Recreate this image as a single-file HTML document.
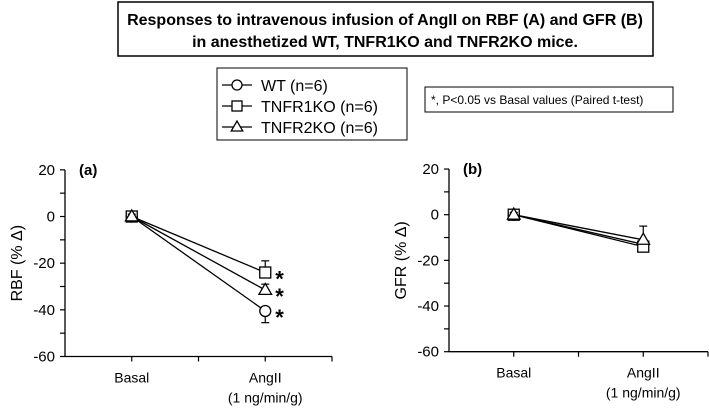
<!DOCTYPE html>
<html><head><meta charset="utf-8"><style>
body{margin:0;background:#fff;width:709px;height:406px;overflow:hidden;font-family:"Liberation Sans",sans-serif}
svg text{font-family:"Liberation Sans",sans-serif}
</style></head><body>
<svg id="c" width="709" height="406" xmlns="http://www.w3.org/2000/svg">
<rect x="118" y="2" width="535" height="54" fill="#fff" stroke="#000" stroke-width="1.5"/>
<text x="385" y="25" text-anchor="middle" font-weight="bold" font-size="16">Responses to intravenous infusion of AngII on RBF (A) and GFR (B)</text>
<text x="385" y="47" text-anchor="middle" font-weight="bold" font-size="16">in anesthetized WT, TNFR1KO and TNFR2KO mice.</text>
<g>
<rect x="217" y="68" width="190" height="72" fill="#fff" stroke="#000"/>
</g>
<rect x="425" y="87" width="248" height="25" fill="#fff" stroke="#000"/>
<text x="431" y="104" font-size="12">*, P&lt;0.05 vs Basal values (Paired t-test)</text>
</svg>
<script>
const categories=["Basal","AngII"];
const series=["WT (n=6)","TNFR1KO (n=6)","TNFR2KO (n=6)"];
const markers=["circle","square","triangle"];
const rbfValues=[[0,-40.5],[0,-24],[0,-31.5]];
const rbfErrors=[[1,5],[1,5],[1,2.5]];
const gfrValues=[[0,-13],[0,-14],[0,-11]];
const gfrErrors=[[1,2],[1,2],[1,6]];
const yTicks=[20,0,-20,-40,-60];
const rbfSig=[true,true,true];
const errDir=[-1,1,1];
const NS="http://www.w3.org/2000/svg";
const svg=document.getElementById('c');
function mk(tag,attrs,parent){const e=document.createElementNS(NS,tag);for(const k in attrs)e.setAttribute(k,attrs[k]);(parent||svg).appendChild(e);return e;}
function marker(g,type,x,y,r){
  if(type==="circle")return mk('circle',{cx:x,cy:y,r:r,fill:'#fff',stroke:'#000','stroke-width':1.3},g);
  if(type==="square")return mk('rect',{x:x-r,y:y-r,width:2*r,height:2*r,fill:'#fff',stroke:'#000','stroke-width':1.3},g);
  return mk('polygon',{points:`${x},${y-r*1.2} ${x-r*1.15},${y+r*0.8} ${x+r*1.15},${y+r*0.8}`,fill:'#fff',stroke:'#000','stroke-width':1.3},g);
}
series.forEach((s,i)=>{
  const y=85+i*21;
  const g=mk('g',{});
  
  
  mk('line',{x1:222,x2:252,y1:y,y2:y,stroke:'#000','stroke-width':1.3},g);
  marker(g,markers[i],237,y,5);
  const t=mk('text',{x:261,y:y+6,'font-size':16},g);t.textContent=s;
});
function panel(name,ax,x1,y0,yB,values,errs,label,letter,sig){
  const g=mk('g',{});
  
  
  const ys=v=>y0-v*(yB-y0)/60;
  const step=(x1-ax)/4;
  const xs=i=>ax+step*(1+2*i);
  mk('line',{x1:ax,x2:ax,y1:ys(20),y2:ys(-60),stroke:'#000','stroke-width':1.3},g);
  mk('line',{x1:ax,x2:x1,y1:ys(-60),y2:ys(-60),stroke:'#000','stroke-width':1.3},g);
  for(let v=20;v>=-60;v-=10){mk('line',{x1:ax-5,x2:ax,y1:ys(v),y2:ys(v),stroke:'#000','stroke-width':1.2},g);}
  yTicks.forEach(v=>{const t=mk('text',{x:ax-10,y:ys(v)+5,'text-anchor':'end','font-size':15},g);t.textContent=v;});
  for(let k=1;k<=4;k++){mk('line',{x1:ax+step*k,x2:ax+step*k,y1:ys(-60),y2:ys(-60)+5,stroke:'#000','stroke-width':1.2},g);}
  const c0=mk('text',{x:xs(0),y:ys(-60)+26,'text-anchor':'middle','font-size':14},g);c0.textContent=categories[0];
  const c1=mk('text',{x:xs(1),y:ys(-60)+26,'text-anchor':'middle','font-size':14},g);c1.textContent=categories[1];
  const c2=mk('text',{x:xs(1),y:ys(-60)+46,'text-anchor':'middle','font-size':14},g);c2.textContent="(1 ng/min/g)";
  const yl=mk('text',{transform:`translate(${ax-43},${ys(-20)}) rotate(-90)`,'text-anchor':'middle','font-size':16},g);yl.textContent=label;
  const lt=mk('text',{x:ax+14,y:ys(20)+5,'font-size':15,'font-weight':'bold'},g);lt.textContent=letter;
  values.forEach((vals,si)=>{
    const sg=mk('g',{},g);
    
    
    mk('line',{x1:xs(0),y1:ys(vals[0]),x2:xs(1),y2:ys(vals[1]),stroke:'#000','stroke-width':1.3},sg);
  });
  values.forEach((vals,si)=>{
    const sg=mk('g',{},g);
    
    
    vals.forEach((v,ci)=>{
      const ye=ys(v+errDir[si]*errs[si][ci]);
      mk('line',{x1:xs(ci),x2:xs(ci),y1:ys(v),y2:ye,stroke:'#000','stroke-width':1.2},sg);
      mk('line',{x1:xs(ci)-4,x2:xs(ci)+4,y1:ye,y2:ye,stroke:'#000','stroke-width':1.2},sg);
      marker(sg,markers[si],xs(ci),ys(v),5.5);
      if(ci===1&&sig&&sig[si]){const s=mk('text',{x:xs(ci)+10,y:ys(v)+14,'font-size':22,'font-weight':'bold'},sg);s.textContent="*";}
    });
  });
}
panel('rbf-panel',65,332,216.5,356.5,rbfValues,rbfErrors,"RBF (% Δ)","(a)",rbfSig);
panel('gfr-panel',449,708,214.7,351.7,gfrValues,gfrErrors,"GFR (% Δ)","(b)",null);
</script>
</body></html>
